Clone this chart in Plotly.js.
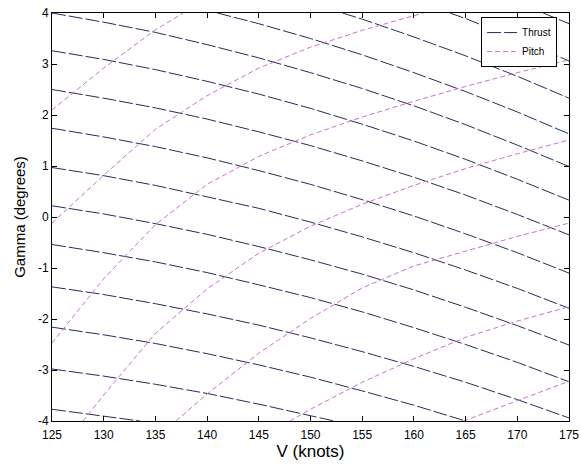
<!DOCTYPE html>
<html>
<head>
<meta charset="utf-8">
<script src="https://cdn.plot.ly/plotly-3.0.1.min.js"></script>
<style>html,body{margin:0;padding:0;background:#fff;}#chart{width:581px;height:468px;}</style>
</head>
<body>
<div id="chart"></div>
<script>
// ---- axis ticks ----
const xTicks = [125, 130, 135, 140, 145, 150, 155, 160, 165, 170, 175];
const yTicks = [-4, -3, -2, -1, 0, 1, 2, 3, 4];
const yTickText = ['-4', '-3', '-2', '-1', '0', '1', '2', '3', '4'];
const vGrid = [125, 130, 135, 140, 145, 150, 155, 160, 165, 170, 175];

// ---- Thrust contour lines (V in knots, Gamma in degrees) ----
const thrust1V = [172.5, 175];
const thrust1G = [4.0, 3.79];
const thrust2V = [163.5, 165, 170, 175];
const thrust2G = [4.0, 3.89, 3.49, 3.06];
const thrust3V = [153.1, 155, 160, 165, 170, 175];
const thrust3G = [4.0, 3.88, 3.53, 3.16, 2.76, 2.33];
const thrust4V = [141, 145, 150, 155, 160, 165, 170, 175];
const thrust4G = [4.0, 3.79, 3.50, 3.18, 2.83, 2.46, 2.06, 1.63];
const thrust5G = [4.0, 3.82, 3.62, 3.38, 3.12, 2.83, 2.52, 2.18, 1.81, 1.41, 0.99];
const thrust6G = [3.26, 3.09, 2.89, 2.66, 2.41, 2.13, 1.82, 1.49, 1.13, 0.74, 0.33];
const thrust7G = [2.50, 2.33, 2.14, 1.92, 1.67, 1.40, 1.10, 0.78, 0.43, 0.05, -0.35];
const thrust8G = [1.74, 1.57, 1.38, 1.16, 0.91, 0.64, 0.34, 0.02, -0.33, -0.70, -1.10];
const thrust9G = [0.97, 0.81, 0.62, 0.40, 0.17, -0.10, -0.39, -0.70, -1.04, -1.40, -1.79];
const thrust10G = [0.22, 0.06, -0.13, -0.34, -0.58, -0.84, -1.12, -1.43, -1.77, -2.13, -2.51];
const thrust11G = [-0.54, -0.70, -0.88, -1.09, -1.33, -1.58, -1.86, -2.17, -2.50, -2.85, -3.23];
const thrust12G = [-1.37, -1.52, -1.70, -1.90, -2.12, -2.37, -2.64, -2.93, -3.24, -3.58, -3.94];
const thrust13V = [125, 130, 135, 140, 145, 150, 155, 160, 165];
const thrust13G = [-2.16, -2.31, -2.48, -2.68, -2.90, -3.14, -3.41, -3.69, -4.0];
const thrust14V = [125, 130, 135, 140, 145, 150, 152.3];
const thrust14G = [-2.98, -3.12, -3.28, -3.46, -3.67, -3.89, -4.0];
const thrust15V = [125, 130, 133.5];
const thrust15G = [-3.77, -3.90, -4.0];

// ---- Pitch contour lines ----
const pitch1V = [125, 130, 135, 137.7];
const pitch1G = [2.10, 2.92, 3.67, 4.0];
const pitch2V = [125, 130, 135, 140, 145, 150, 155, 160, 160.9];
const pitch2G = [-0.12, 0.82, 1.72, 2.38, 2.92, 3.33, 3.66, 3.95, 4.0];
const pitch3G = [-2.47, -1.21, -0.15, 0.64, 1.19, 1.61, 1.96, 2.27, 2.56, 2.83, 3.08];
const pitch4V = [128, 130, 135, 140, 145, 150, 155, 160, 165, 170, 175];
const pitch4G = [-4.0, -3.49, -2.28, -1.41, -0.71, -0.18, 0.25, 0.62, 0.95, 1.24, 1.51];
const pitch5V = [137, 140, 145, 150, 155, 160, 165, 170, 175];
const pitch5G = [-4.0, -3.47, -2.67, -1.99, -1.39, -0.96, -0.67, -0.38, -0.12];
const pitch6V = [148, 150, 155, 160, 165, 170, 175];
const pitch6G = [-4.0, -3.77, -3.24, -2.78, -2.36, -2.04, -1.76];
const pitch7V = [164.8, 170, 175];
const pitch7G = [-4.0, -3.6, -3.22];

const thrustLines = [
  [thrust1V, thrust1G], [thrust2V, thrust2G], [thrust3V, thrust3G], [thrust4V, thrust4G],
  [vGrid, thrust5G], [vGrid, thrust6G], [vGrid, thrust7G], [vGrid, thrust8G],
  [vGrid, thrust9G], [vGrid, thrust10G], [vGrid, thrust11G], [vGrid, thrust12G],
  [thrust13V, thrust13G], [thrust14V, thrust14G], [thrust15V, thrust15G]
];
const pitchLines = [
  [pitch1V, pitch1G], [pitch2V, pitch2G], [vGrid, pitch3G], [pitch4V, pitch4G],
  [pitch5V, pitch5G], [pitch6V, pitch6G], [pitch7V, pitch7G]
];

const thrustColor = '#2a2a5e';
const pitchColor = '#cc6fcc';
const traces = [];
thrustLines.forEach(function (ln, i) {
  traces.push({
    x: ln[0], y: ln[1], type: 'scatter', mode: 'lines',
    name: 'Thrust', legendgroup: 'thrust', showlegend: i === 0,
    line: { color: thrustColor, width: 1, dash: '14px,3px' },
    hoverinfo: 'skip'
  });
});
pitchLines.forEach(function (ln, i) {
  traces.push({
    x: ln[0], y: ln[1], type: 'scatter', mode: 'lines',
    name: 'Pitch', legendgroup: 'pitch', showlegend: i === 0,
    line: { color: pitchColor, width: 1, dash: '5px,3px' },
    hoverinfo: 'skip'
  });
});

const fontFam = 'Liberation Sans, Arial, sans-serif';
const axisCommon = {
  showgrid: false, zeroline: false, showline: true, linecolor: '#000', linewidth: 1,
  mirror: 'ticks', ticks: 'inside', ticklen: 5, tickwidth: 1, tickcolor: '#000',
  tickfont: { family: fontFam, size: 12, color: '#000' }
};

const layout = {
  width: 581, height: 468,
  margin: { l: 52, r: 12, t: 13, b: 47, pad: 0 },
  paper_bgcolor: '#fff', plot_bgcolor: '#fff',
  font: { family: fontFam, color: '#000' },
  xaxis: Object.assign({}, axisCommon, {
    range: [125, 175], tickmode: 'array', tickvals: xTicks, ticklabelstandoff: 3,
    title: { text: 'V (knots)', font: { family: fontFam, size: 17, color: '#000' }, standoff: 0 }
  }),
  yaxis: Object.assign({}, axisCommon, {
    range: [-4, 4], tickmode: 'array', tickvals: yTicks, ticktext: yTickText,
    title: { text: 'Gamma (degrees)', font: { family: fontFam, size: 15, color: '#000' }, standoff: 8 }
  }),
  showlegend: true,
  legend: {
    x: 0.83, y: 0.99, xanchor: 'left', yanchor: 'top',
    bgcolor: '#fff', bordercolor: '#000', borderwidth: 1,
    font: { family: fontFam, size: 10, color: '#000' },
    itemwidth: 30, tracegroupgap: 0
  }
};

Plotly.newPlot('chart', traces, layout, { staticPlot: true, displayModeBar: false });
</script>
</body>
</html>
